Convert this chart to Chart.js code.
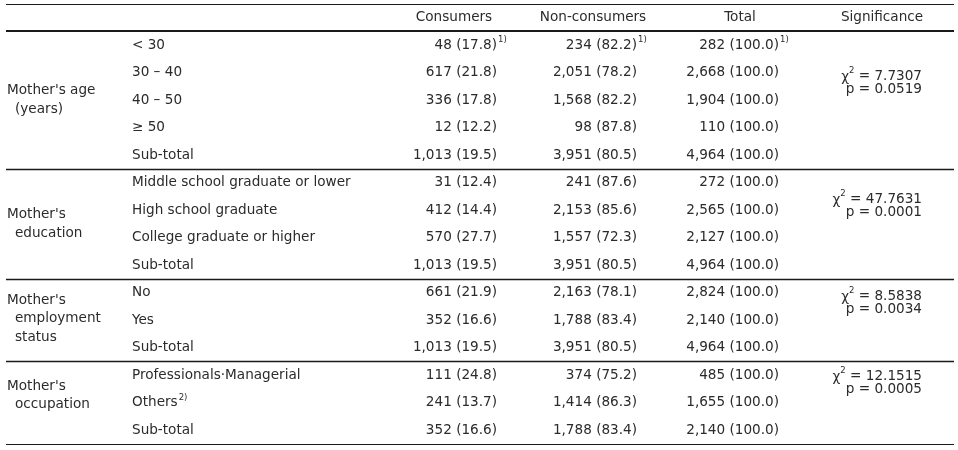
<!DOCTYPE html>
<html>
<head>
<meta charset="utf-8">
<script src="https://cdn.jsdelivr.net/npm/chart.js@4/dist/chart.umd.min.js"></script>
<style>
  html, body { margin: 0; padding: 0; background: #fff; }
</style>
</head>
<body>
<canvas id="table" width="958" height="450"></canvas>
<script>
// Data
var headers = ['Consumers', 'Non-consumers', 'Total', 'Significance']
var groups = [["Mother's age", "(years)"], ["Mother's", "education"], ["Mother's", "employment", "status"], ["Mother's", "occupation"]]
var subLabels = ['< 30', '30 \u2013 40', '40 \u2013 50', '\u2265 50', 'Sub-total',
    'Middle school graduate or lower', 'High school graduate', 'College graduate or higher', 'Sub-total',
    'No', 'Yes', 'Sub-total',
    'Professionals\u00b7Managerial', 'Others', 'Sub-total']
var consumers = [48, 617, 336, 12, 1013, 31, 412, 570, 1013, 661, 352, 1013, 111, 241, 352]
var consumersPct = [17.8, 21.8, 17.8, 12.2, 19.5, 12.4, 14.4, 27.7, 19.5, 21.9, 16.6, 19.5, 24.8, 13.7, 16.6]
var nonConsumers = [234, 2051, 1568, 98, 3951, 241, 2153, 1557, 3951, 2163, 1788, 3951, 374, 1414, 1788]
var nonConsumersPct = [82.2, 78.2, 82.2, 87.8, 80.5, 87.6, 85.6, 72.3, 80.5, 78.1, 83.4, 80.5, 75.2, 86.3, 83.4]
var totals = [282, 2668, 1904, 110, 4964, 272, 2565, 2127, 4964, 2824, 2140, 4964, 485, 1655, 2140]
var chiSquare = ['7.7307', '47.7631', '8.5838', '12.1515']
var pValues = ['0.0519', '0.0001', '0.0034', '0.0005']
var sections = [[0, 4], [5, 8], [9, 11], [12, 14]]

// Layout (not data)
var colX = { group: 7, sub: 132, cons: 497, non: 637, tot: 779, sig: 922 }
var headX = [454, 593, 740, 882]
var groupRow = [2, 6.5, 9.95, 12.75]
var sigRow = [1.13, 5.6, 9.13, 12.04]
var FONT = '13.6px "DejaVu Sans"'
var SUP = '8.5px "DejaVu Sans"'
var INK = '#2b2b2b'

function fmt(n) { return n.toLocaleString('en-US') }
function cell(n, p) { return fmt(n) + ' (' + p.toFixed(1) + ')' }

var rows = subLabels.map(function (s, i) { return i })

function pts(x, list) {
    return list.map(function (r) { return { x: x, y: r } })
}

var datasets = [
    { label: 'header', data: headX.map(function (x) { return { x: x, y: -1 } }),
      text: headers, align: 'center' },
    { label: 'group', data: pts(colX.group, groupRow), text: groups, align: 'left' },
    { label: 'sub', data: pts(colX.sub, rows), text: subLabels, align: 'left', sup: { 13: '2)' } },
    { label: 'cons', data: pts(colX.cons, rows), align: 'right', sup: { 0: '1)' },
      text: consumers.map(function (v, i) { return cell(v, consumersPct[i]) }) },
    { label: 'non', data: pts(colX.non, rows), align: 'right', sup: { 0: '1)' },
      text: nonConsumers.map(function (v, i) { return cell(v, nonConsumersPct[i]) }) },
    { label: 'tot', data: pts(colX.tot, rows), align: 'right', sup: { 0: '1)' },
      text: totals.map(function (v) { return cell(v, 100) }) },
    { label: 'chi', data: pts(colX.sig, sigRow), align: 'right', chi: true, text: chiSquare },
    { label: 'p', data: pts(colX.sig, sigRow.map(function (r) { return r + 0.5 })), align: 'right',
      text: pValues.map(function (p) { return 'p = ' + p }) }
]
datasets.forEach(function (d) { d.pointRadius = 0; d.pointHoverRadius = 0 })

// Rules across the table
var tableRules = {
    id: 'tableRules',
    beforeDatasetsDraw: function (chart) {
        var ctx = chart.ctx
        var y = chart.scales.y
        var lines = [[-1.5, 1], [-0.5, 2]]
        sections.forEach(function (s, i) { lines.push([s[1] + 0.5, i == sections.length - 1 ? 1.2 : 1.4]) })
        ctx.save()
        ctx.strokeStyle = '#1a1a1a'
        lines.forEach(function (l) {
            var py = Math.round(y.getPixelForValue(l[0])) + (l[1] % 2 ? 0.5 : 0)
            ctx.lineWidth = l[1]
            ctx.beginPath()
            ctx.moveTo(6, py)
            ctx.lineTo(954, py)
            ctx.stroke()
        })
        ctx.restore()
    }
}

// Cell texts at the points' positions
var cellText = {
    id: 'cellText',
    afterDatasetsDraw: function (chart) {
        var ctx = chart.ctx
        ctx.save()
        ctx.fillStyle = INK
        ctx.textBaseline = 'middle'
        chart.data.datasets.forEach(function (ds, di) {
            var meta = chart.getDatasetMeta(di)
            meta.data.forEach(function (pt, i) {
                var t = ds.text[i]
                ctx.font = FONT
                if (Array.isArray(t)) {
                    var step = 18.5
                    var y0 = pt.y - step * (t.length - 1) / 2
                    t.forEach(function (line, k) {
                        ctx.textAlign = 'left'
                        ctx.fillText(line, pt.x + (k > 0 ? 8 : 0), y0 + k * step)
                    })
                    return
                }
                if (ds.chi) {
                    var rest = ' = ' + t
                    ctx.font = FONT
                    var wRest = ctx.measureText(rest).width
                    var wChi = ctx.measureText('\u03c7').width
                    ctx.font = SUP
                    var wSup = ctx.measureText('2').width
                    var x0 = pt.x - wRest - wSup - wChi
                    ctx.textAlign = 'left'
                    ctx.font = FONT
                    ctx.fillText('\u03c7', x0, pt.y + 1)
                    ctx.fillText(rest, x0 + wChi + wSup, pt.y)
                    ctx.font = SUP
                    ctx.fillText('2', x0 + wChi, pt.y - 5)
                    return
                }
                ctx.textAlign = ds.align
                ctx.fillText(t, pt.x, pt.y)
                if (ds.sup && ds.sup[i]) {
                    var w = ctx.measureText(t).width
                    var sx = ds.align == 'right' ? pt.x + 1 : pt.x + w + 1
                    ctx.font = SUP
                    ctx.textAlign = 'left'
                    ctx.fillText(ds.sup[i], sx, pt.y - 5)
                }
            })
        })
        ctx.restore()
    }
}

var ctx = document.getElementById('table').getContext('2d')
var myChart = new Chart(ctx, {
    type: 'scatter',
    data: { datasets: datasets },
    options: {
        responsive: false,
        animation: false,
        events: [],
        layout: { padding: 0 },
        plugins: { legend: { display: false }, tooltip: { enabled: false } },
        scales: {
            x: { type: 'linear', display: false, min: 0, max: 958 },
            y: { type: 'linear', display: false, reverse: true, min: -45 / 27.5, max: 405 / 27.5 }
        }
    },
    plugins: [tableRules, cellText]
})
</script>
</body>
</html>
